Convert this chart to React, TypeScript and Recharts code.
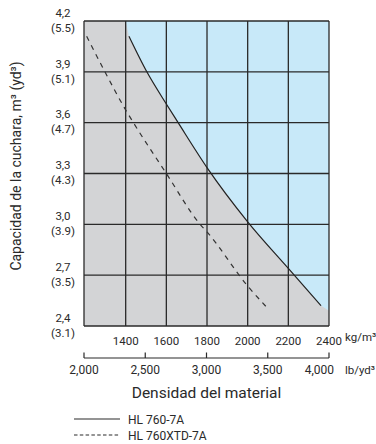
import {
  Area,
  CartesianGrid,
  ComposedChart,
  Line,
  ReferenceLine,
  XAxis,
  YAxis,
} from "recharts";

const FONT = "Roboto, 'DejaVu Sans Condensed', sans-serif";
const INK = "#2a2a2a";

// axes
const kgRange = [1195, 2400];
const kgTicks = [1400, 1600, 1800, 2000, 2200, 2400];
const lbRange = [2000, 4000];
const lbTicks = [2000, 2500, 3000, 3500, 4000];
const m3Ticks = [2.4, 2.7, 3.0, 3.3, 3.6, 3.9, 4.2];
const yd3Labels = ["(3.1)", "(3.5)", "(3.9)", "(4.3)", "(4.7)", "(5.1)", "(5.5)"];

// HL 760-7A (solid)
const hlDensity = [1416, 1504, 1600, 1658, 1800, 2000, 2200, 2361];
const hlCapacity = [4.11, 3.9, 3.71, 3.6, 3.335, 3.015, 2.74, 2.52];

// HL 760XTD-7A (dashed)
const xtdDensity = [1208, 1298, 1400, 1438, 1600, 1766, 1800, 2000, 2094];
const xtdCapacity = [4.11, 3.9, 3.675, 3.6, 3.3, 3.0, 2.955, 2.636, 2.51];

// grey zone: the solid curve carried out to the plot edges
const zoneDensity = [1195, 1400, ...hlDensity, 2400];
const zoneCapacity = [4.2, 4.2, ...hlCapacity, 2.49];

const toPoints = (xs: number[], ys: (number | null)[]) => xs.map((x, i) => ({ x, y: ys[i] }));

const hlData = toPoints(hlDensity, hlCapacity);
const xtdData = toPoints(xtdDensity, xtdCapacity);
const zoneData = toPoints(zoneDensity, zoneCapacity);
// empty series so the lb/yd³ scale gets built
const lbData = toPoints(lbTicks, lbTicks.map(() => null));

const YTick = ({ y, payload }: any) => {
  const i = m3Ticks.findIndex((t) => Math.abs(t - payload.value) < 1e-6);
  return (
    <text textAnchor="middle" fontSize={11.5} fill={INK} fontFamily={FONT}>
      <tspan x={63} y={y - 4.2}>
        {payload.value.toFixed(1).replace(".", ",")}
      </tspan>
      <tspan x={63} y={y + 10.8}>
        {yd3Labels[i]}
      </tspan>
    </text>
  );
};

const KgTick = ({ x, y, payload }: any) => (
  <text x={x} y={y + 18.5} textAnchor="middle" fontSize={11.5} fill={INK} fontFamily={FONT}>
    {payload.value}
  </text>
);

const LbTick = ({ x, y, payload }: any) => {
  const last = payload.value === lbTicks[lbTicks.length - 1];
  return (
    <g>
      <line x1={x} x2={x} y1={y} y2={y - 5.5} stroke={INK} strokeWidth={1.2} />
      <text
        x={last ? x + 5 : x}
        y={y + 15.5}
        textAnchor={last ? "end" : "middle"}
        fontSize={12}
        fill={INK}
        fontFamily={FONT}
      >
        {payload.value.toLocaleString("en-US")}
      </text>
    </g>
  );
};

export default function App() {
  return (
    <div style={{ position: "absolute", left: 0, top: 0, width: 376, height: 444, background: "#fff" }}>
      <ComposedChart
        width={376}
        height={444}
        margin={{ top: 21, right: 47, bottom: 36, left: 0 }}
      >
        <CartesianGrid
          xAxisId="kg"
          fill="#c8e9f9"
          fillOpacity={1}
          stroke="none"
          horizontal={false}
          vertical={false}
        />
        <XAxis
          xAxisId="kg"
          dataKey="x"
          type="number"
          domain={kgRange}
          ticks={kgTicks}
          allowDataOverflow
          height={32}
          tickSize={0}
          tickMargin={0}
          tickLine={false}
          axisLine={false}
          tick={<KgTick />}
          interval={0}
          label={{
            content: ({ viewBox }: any) => (
              <text
                x={viewBox.x + viewBox.width + 16}
                y={viewBox.y + 15}
                fontSize={11.5}
                fill={INK}
                fontFamily={FONT}
              >
                kg/m³
              </text>
            ),
          }}
        />
        <XAxis
          xAxisId="lb"
          dataKey="x"
          type="number"
          domain={lbRange}
          ticks={lbTicks}
          allowDataOverflow
          height={50}
          tickSize={0}
          tickMargin={0}
          tickLine={false}
          axisLine={{ stroke: INK, strokeWidth: 1.2 }}
          tick={<LbTick />}
          interval={0}
          label={{
            content: ({ viewBox }: any) => (
              <g>
                <text
                  x={viewBox.x + viewBox.width + 16}
                  y={viewBox.y + 15.5}
                  fontSize={11.5}
                  fill={INK}
                  fontFamily={FONT}
                >
                  lb/yd³
                </text>
                <text
                  x={viewBox.x + viewBox.width / 2}
                  y={viewBox.y + 40}
                  textAnchor="middle"
                  fontSize={15.5}
                  fill={INK}
                  fontFamily={FONT}
                >
                  Densidad del material
                </text>
              </g>
            ),
          }}
        />
        <YAxis
          type="number"
          domain={[2.4, 4.2]}
          ticks={m3Ticks}
          allowDataOverflow
          width={84}
          tickSize={0}
          tickMargin={0}
          tickLine={false}
          axisLine={false}
          tick={<YTick />}
          interval={0}
          label={{
            content: () => (
              <text
                x={21}
                y={166}
                transform="rotate(-90, 21, 166)"
                textAnchor="middle"
                fontSize={14}
                fill={INK}
                fontFamily={FONT}
              >
                Capacidad de la cuchara, m³ (yd³)
              </text>
            ),
          }}
        />

        <Area
          xAxisId="kg"
          data={zoneData}
          dataKey="y"
          type="linear"
          fill="#d3d4d6"
          fillOpacity={1}
          stroke="none"
          isAnimationActive={false}
          activeDot={false}
        />

        {[kgRange[0], ...kgTicks].map((v) => (
          <ReferenceLine key={"v" + v} xAxisId="kg" x={v} stroke={INK} strokeWidth={1.3} />
        ))}
        {m3Ticks.map((v) => (
          <ReferenceLine key={"h" + v} xAxisId="kg" y={v} stroke={INK} strokeWidth={1.3} />
        ))}

        <Line
          xAxisId="lb"
          data={lbData}
          dataKey="y"
          stroke="none"
          dot={false}
          activeDot={false}
          legendType="none"
          isAnimationActive={false}
        />
        <Line
          xAxisId="kg"
          data={xtdData}
          dataKey="y"
          type="monotone"
          stroke="#333"
          strokeWidth={1.2}
          strokeDasharray="5 5"
          dot={false}
          activeDot={false}
          isAnimationActive={false}
        />
        <Line
          xAxisId="kg"
          data={hlData}
          dataKey="y"
          type="monotone"
          stroke="#222"
          strokeWidth={1.2}
          dot={false}
          activeDot={false}
          isAnimationActive={false}
        />
      </ComposedChart>

      <div style={{ position: "absolute", left: 74, top: 412, fontFamily: FONT, fontSize: 12, color: INK, lineHeight: "16px" }}>
        {[
          { name: "HL 760-7A", dash: undefined },
          { name: "HL 760XTD-7A", dash: "3.5 2.3" },
        ].map((s) => (
          <div key={s.name} style={{ display: "flex", alignItems: "center", height: 16 }}>
            <svg width={54} height={16}>
              <line x1={0} x2={46} y1={7} y2={7} stroke={INK} strokeWidth={1.2} strokeDasharray={s.dash} />
            </svg>
            <span>{s.name}</span>
          </div>
        ))}
      </div>
    </div>
  );
}
